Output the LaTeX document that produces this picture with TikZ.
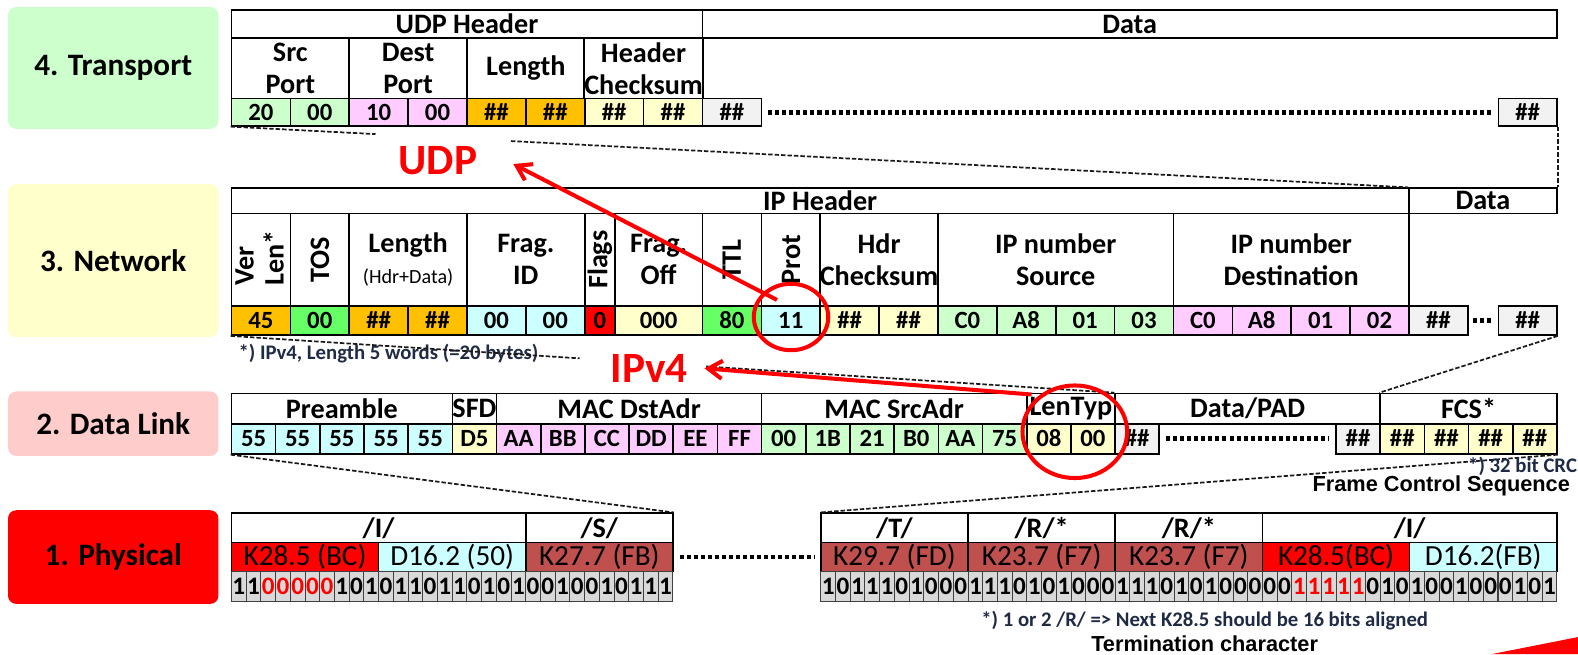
\documentclass[tikz,border=0pt]{standalone}
\usepackage{fontspec}
\setmainfont{Carlito}
\newfontfamily\arialf{Liberation Sans}
\usetikzlibrary{arrows.meta,calc,shapes.geometric}
\definecolor{lgreen}{HTML}{CCFFCC}
\definecolor{lpink}{HTML}{FFCCFF}
\definecolor{orng}{HTML}{FFC000}
\definecolor{lyel}{HTML}{FFFFCC}
\definecolor{lgray}{HTML}{F2F2F2}
\definecolor{lcyan}{HTML}{CCFFFF}
\definecolor{mgreen}{HTML}{66FF66}
\definecolor{brn}{HTML}{C0504D}
\definecolor{labgreen}{HTML}{CCFFCC}
\definecolor{labyel}{HTML}{FFFFCC}
\definecolor{labpink}{HTML}{FFCCCC}
\definecolor{footc}{HTML}{1F2A44}
\definecolor{bitgray}{HTML}{D9D9D9}
\newcommand\hdrf{\fontsize{14}{16}\selectfont\bfseries}
\newcommand\valf{\fontsize{12.3}{13}\selectfont\bfseries}
\newcommand\kf{\fontsize{14.5}{15}\selectfont}
\newcommand\bitf{\fontsize{12.5}{13}\selectfont\bfseries}
\newcommand\labf{\fontsize{15.5}{17}\selectfont\bfseries}
\newcommand\smallf{\fontsize{10}{11}\selectfont}
\newcommand\redf{\fontsize{21.5}{22}\selectfont\bfseries}
\newcommand\footf{\fontsize{10.3}{11}\selectfont\bfseries}
\newcommand\arnf{\arialf\fontsize{10.8}{12}\selectfont\bfseries}
\newcommand\cellbox[8][]{\node[cell,#1,fill=#7,minimum width={(#5-#3)*0.5pt},minimum height={(#6-#4)*0.5pt}] (#2) at ({(#3+#5)/2},{(#4+#6)/2}) {#8};}
\begin{document}
\begin{tikzpicture}[x=0.5pt,y=-0.5pt,
 cell/.style={draw, line width=0.8pt, inner sep=0pt, align=center, font=\hdrf},
 vals/.style={font=\valf, text height=7.9pt, text depth=0pt},
 bitbox/.style={draw=black!75, line width=0.5pt, fill=bitgray, font=\bitf, text height=8pt, text depth=0pt},
 kcell/.style={font=\kf},
 lab/.style={rounded corners=4pt, inner sep=0pt, font=\labf},
 zoomline/.style={line width=0.85pt, dash pattern=on 2.2pt off 1pt, black!90},
 dotline/.style={line width=2.4pt, dash pattern=on 2pt off 1.5pt, shorten <=3pt, shorten >=3pt},
 redmark/.style={draw=red, line width=2pt, ellipse, inner sep=0pt},
 redarr/.style={red, line width=2pt, -{Straight Barb[length=7pt,width=9pt]}},
 redtext/.style={text=red, font=\redf},
 foot/.style={text=footc, font=\footf},
 arialnote/.style={font=\arnf}
]
\useasboundingbox (0,0) rectangle (1568,650);
% layer labels
\node[lab, fill=labgreen, minimum width=104.5pt, minimum height=60.5pt] (L4) at (112.5,67.5) {4. Transport};
\node[lab, fill=labyel, minimum width=104.5pt, minimum height=76pt] (L3) at (112.5,259) {3. Network};
\node[lab, fill=labpink, minimum width=104.5pt, minimum height=32pt] (L2) at (112.5,421) {2. Data Link};
\node[lab, fill=red, minimum width=104.5pt, minimum height=46.5pt] (L1) at (112.5,553.5) {1. Physical};
% ---------------- transport
\cellbox{udph}{230}{10}{698}{38}{white}{UDP Header}
\cellbox{tdata}{698}{10}{1547}{38}{white}{Data}
\cellbox{tsrc}{230}{38}{347}{98}{white}{Src\\Port}
\cellbox{tdst}{347}{38}{464}{98}{white}{Dest\\Port}
\cellbox{tlen}{464}{38}{581}{98}{white}{Length}
\cellbox{tck}{581}{38}{698}{98}{white}{Header\\Checksum}
\foreach \xa/\xb/\fc/\tx/\nm in {230/288.5/lgreen/20/t1, 288.5/347/lgreen/00/t2, 347/405.5/lpink/10/t3, 405.5/464/lpink/00/t4, 464/522.5/orng/\#\#/t5, 522.5/581/orng/\#\#/t6, 581/639.5/lyel/\#\#/t7, 639.5/698/lyel/\#\#/t8, 698/756.5/lgray/\#\#/t9, 1489/1547/lgray/\#\#/t10}
  {\cellbox[vals]{\nm}{\xa}{98}{\xb}{125}{\fc}{\tx}}
\draw[dotline] (t9.east) -- (t10.west);
% ---------------- network
\cellbox{iph}{230}{187}{1400}{212}{white}{IP Header}
\cellbox{ndata}{1400}{187}{1547}{212}{white}{Data}
\foreach \xa/\xb/\nm in {230/288.5/nf1, 288.5/347/nf2, 347/464/nf3, 581/611/nf5, 698/756.5/nf7, 756.5/815/nf8}
  {\cellbox{\nm}{\xa}{212}{\xb}{304}{white}{}}
\cellbox{nf4}{464}{212}{581}{304}{white}{Frag.\\ID}
\cellbox{nf6}{611}{212}{698}{304}{white}{Frag.\\Off}
\cellbox{nf9}{815}{212}{932}{304}{white}{Hdr\\Checksum}
\cellbox{nf10}{932}{212}{1166}{304}{white}{IP number\\Source}
\cellbox{nf11}{1166}{212}{1400}{304}{white}{IP number\\Destination}
\node[rotate=90, font=\hdrf] (tver) at (243,264) {Ver};
\node[rotate=90, font=\hdrf] (tlenx) at (272,256) {Len*};
\node[rotate=90, font=\hdrf] (ttos) at (318,258) {TOS};
\node[font=\hdrf] (tlength) at (405.5,243) {Length};
\node[font=\smallf] (thd) at (405.5,276) {(Hdr+Data)};
\node[rotate=90, font=\hdrf] (tflags) at (596,258) {Flags};
\node[rotate=90, font=\hdrf] (tttl) at (727,258) {TTL};
\node[rotate=90, font=\hdrf] (tprot) at (786,258) {Prot};
\foreach \xa/\xb/\fc/\tx/\nm in {230/288.5/orng/45/n45, 288.5/347/mgreen/00/ntos, 347/405.5/orng/\#\#/nl1, 405.5/464/orng/\#\#/nl2, 464/522.5/lcyan/00/nid1, 522.5/581/lcyan/00/nid2, 581/611/red/0/nflg, 611/698/lyel/000/noff, 698/756.5/mgreen/80/nttl, 756.5/815/lcyan/11/nprot, 815/873.5/lyel/\#\#/nck1, 873.5/932/lyel/\#\#/nck2, 932/990.5/lgreen/C0/ns1, 990.5/1049/lgreen/A8/ns2, 1049/1107.5/lgreen/01/ns3, 1107.5/1166/lgreen/03/ns4, 1166/1224.5/lpink/C0/nd1, 1224.5/1283/lpink/A8/nd2, 1283/1341.5/lpink/01/nd3, 1341.5/1400/lpink/02/nd4, 1400/1458.5/lgray/\#\#/ndd1, 1489/1547/lgray/\#\#/ndd2}
  {\cellbox[vals]{\nm}{\xa}{304}{\xb}{333}{\fc}{\tx}}
\draw[dotline, shorten <=2pt, shorten >=2pt] (ndd1.east) -- (ndd2.west);
% ---------------- data link
\cellbox{dpre}{230}{391}{449.5}{421}{white}{Preamble}
\cellbox{dsfd}{449.5}{391}{493.4}{421}{white}{SFD}
\cellbox{ddst}{493.4}{391}{756.8}{421}{white}{MAC DstAdr}
\cellbox{dsrc}{756.8}{391}{1020.2}{421}{white}{MAC SrcAdr}
\cellbox{dlt}{1020.2}{391}{1108}{421}{white}{LenTyp}
\cellbox{dpad}{1108}{391}{1371.4}{421}{white}{Data/PAD}
\cellbox{dfcs}{1371.4}{391}{1547}{421}{white}{FCS*}
\foreach \k/\fc/\tx in {0/lcyan/55, 1/lcyan/55, 2/lcyan/55, 3/lcyan/55, 4/lcyan/55, 5/lyel/D5, 6/lpink/AA, 7/lpink/BB, 8/lpink/CC, 9/lpink/DD, 10/lpink/EE, 11/lpink/FF, 12/lgreen/00, 13/lgreen/1B, 14/lgreen/21, 15/lgreen/B0, 16/lgreen/AA, 17/lgreen/75, 18/lyel/08, 19/lyel/00, 20/lgray/\#\#, 25/lgray/\#\#, 26/lyel/\#\#, 27/lyel/\#\#, 28/lyel/\#\#, 29/lyel/\#\#}
  {\pgfmathsetmacro\xa{230+\k*43.9}\pgfmathsetmacro\xb{230+(\k+1)*43.9}
   \cellbox[vals]{dv\k}{\xa}{421}{\xb}{451}{\fc}{\tx}}
\draw[dotline] (dv20.east) -- (dv25.west);
% ---------------- physical
\cellbox{pI1}{230}{510}{522.4}{539}{white}{/I/}
\cellbox{pS}{522.4}{510}{668.6}{539}{white}{/S/}
\cellbox[kcell]{pk1}{230}{539}{376.2}{568}{red}{K28.5 (BC)}
\cellbox[kcell]{pk2}{376.2}{539}{522.4}{568}{lcyan}{D16.2 (50)}
\cellbox[kcell]{pk3}{522.4}{539}{668.6}{568}{brn}{K27.7 (FB)}
\cellbox{pT}{815.6}{510}{961.9}{539}{white}{/T/}
\cellbox{pR1}{961.9}{510}{1108.2}{539}{white}{/R/*}
\cellbox{pR2}{1108.2}{510}{1254.4}{539}{white}{/R/*}
\cellbox{pI2}{1254.4}{510}{1547}{539}{white}{/I/}
\cellbox[kcell]{pk4}{815.6}{539}{961.9}{568}{brn}{K29.7 (FD)}
\cellbox[kcell]{pk5}{961.9}{539}{1108.2}{568}{brn}{K23.7 (F7)}
\cellbox[kcell]{pk6}{1108.2}{539}{1254.4}{568}{brn}{K23.7 (F7)}
\cellbox[kcell]{pk7}{1254.4}{539}{1400.7}{568}{red}{K28.5(BC)}
\cellbox[kcell]{pk8}{1400.7}{539}{1547}{568}{lcyan}{D16.2(FB)}
\draw[dotline] (pk3.east) -- (pk4.west);
\foreach \b [count=\i from 0] in {1,1,0,0,0,0,0,1,0,1,0,1,1,0,1,1,0,1,0,1,0,0,1,0,0,1,0,1,1,1}
  {\pgfmathsetmacro\xa{230+\i*14.62}
   \pgfmathtruncatemacro\isred{and(\i>1,\i<7)}
   \ifnum\isred=1 \def\bcol{red}\else\def\bcol{black}\fi
   \node[bitbox, inner sep=0pt, minimum width=7.31pt, minimum height=15pt, text=\bcol] (bl\i) at (\xa+7.31,583) {\b};}
\foreach \b [count=\i from 0] in {1,0,1,1,1,0,1,0,0,0,1,1,1,0,1,0,1,0,0,0,1,1,1,0,1,0,1,0,0,0,0,0,1,1,1,1,1,0,1,0,1,0,0,1,0,0,0,1,0,1}
  {\pgfmathsetmacro\xa{815.6+\i*14.628}
   \pgfmathtruncatemacro\isred{and(\i>31,\i<37)}
   \ifnum\isred=1 \def\bcol{red}\else\def\bcol{black}\fi
   \node[bitbox, inner sep=0pt, minimum width=7.314pt, minimum height=15pt, text=\bcol] (br\i) at (\xa+7.314,583) {\b};}
% ---------------- zoom lines
\draw[zoomline] (t1.south west) -- ($(t1.south west)!0.123!(ndata.north west)$);
\draw[zoomline] ($(t1.south west)!0.238!(ndata.north west)$) -- (ndata.north west);
\draw[zoomline] (t10.south east) -- (ndata.north east);
\node[foot, anchor=west] (fn1) at (230,351) {*) IPv4, Length 5 words (=20 bytes)};
\draw[zoomline] (n45.south west) -- ($(n45.south west)!0.395!(dpad.north west)$);
\draw[zoomline] ($(n45.south west)!0.538!(dpad.north west)$) -- (dpad.north west);
\draw[zoomline] (ndd2.south east) -- (dfcs.north west);
\draw[zoomline] (dv0.south west) -- (pS.north east);
\draw[zoomline] (dv29.south east) -- (pT.north west);
% ---------------- notes
\node[foot, anchor=east] (fn2) at (1574,463) {*) 32 bit CRC};
\node[arialnote, anchor=east] (fcsnote) at (1567,483) {Frame Control Sequence};
\node[foot] (fn3) at (1197,617) {*) 1 or 2 /R/ => Next K28.5 should be 16 bits aligned};
\node[arialnote] (termnote) at (1197,640) {Termination character};
% ---------------- red marks
\node[redtext] (udp) at (435,160) {UDP};
\node[redtext] (ipv4) at (645,366) {IPv4};
\node[redmark, minimum width=37pt, minimum height=33pt] (protc) at (786,315) {};
\node[redmark, minimum width=52pt, minimum height=46pt] (ltc) at (1068,429) {};
\coordinate (udpfrom) at (772,298);
\coordinate (udptip) at (510,163);
\coordinate (ipfrom) at (1025,392);
\coordinate (iptip) at (700,366);
\draw[redarr] (udpfrom) -- (udptip);
\draw[redarr] (ipfrom) -- (iptip);
\fill[red] (1482,650) -- (1568,633) -- (1568,650) -- cycle;
\end{tikzpicture}
\end{document}
